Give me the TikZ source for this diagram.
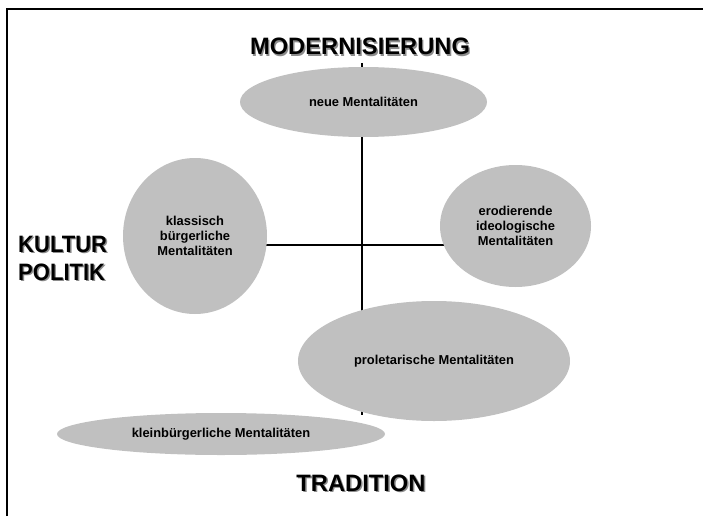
\documentclass[tikz,border=0pt]{standalone}
\usepackage{fontspec}
\setmainfont{Liberation Sans}
\usetikzlibrary{shapes.geometric}
\definecolor{mentfill}{RGB}{192,192,192}
\definecolor{headshade}{RGB}{140,140,140}

\begin{document}
\begin{tikzpicture}[x=1pt,y=-1pt,
  ment/.style={ellipse, fill=mentfill, inner sep=0pt, align=center,
    font=\fontsize{12.9}{15}\selectfont\bfseries},
  axisline/.style={line width=1.5pt, black},
  frameline/.style={line width=2pt, black},
  headfont/.style={font=\fontsize{23.7}{28}\selectfont\bfseries, inner sep=0pt},
  headshadow/.style={headfont, text=headshade},
]
\useasboundingbox (0,0) rectangle (703,516);

% page frame: top and left edges
\coordinate (fbl) at (7,516);
\coordinate (ftl) at (7,9);
\coordinate (ftr) at (703,9);
\draw[frameline] (fbl) -- (ftl) -- (ftr);

% axes, drawn behind the ellipses
\coordinate (vtop) at (362,63);
\coordinate (vbot) at (362,415);
\coordinate (hleft) at (195,245);
\coordinate (hright) at (515,245);
\draw[axisline] (vtop) -- (vbot);
\draw[axisline] (hleft) -- (hright);

% mentality groups
\node[ment, minimum width=247pt, minimum height=70pt] (neue) at (363.5,102)
  {neue Mentalitäten};
\node[ment, minimum width=144pt, minimum height=156pt] (klass) at (195,236)
  {klassisch\\bürgerliche\\Mentalitäten};
\node[ment, minimum width=151pt, minimum height=122pt] (erod) at (515.5,226)
  {erodierende\\ideologische\\Mentalitäten};
\node[ment, minimum width=272pt, minimum height=120pt] (prol) at (434,361)
  {proletarische Mentalitäten};
\node[ment, minimum width=328pt, minimum height=42pt] (klein) at (221,434)
  {kleinbürgerliche Mentalitäten};

% axis headings with drop shadow
\node[headshadow, anchor=base] (modS) at (361.4,56.4) {MODERNISIERUNG};
\node[headfont, anchor=base] (mod) at (360,55) {MODERNISIERUNG};

\node[headshadow, anchor=base west] (kultS) at (19.4,253.4) {\scalebox{0.93}[1]{KULTUR}};
\node[headfont, anchor=base west] (kult) at (18,252) {\scalebox{0.93}[1]{KULTUR}};
\node[headshadow, anchor=base west] (polS) at (19.4,281.4) {\scalebox{0.93}[1]{POLITIK}};
\node[headfont, anchor=base west] (pol) at (18,280) {\scalebox{0.93}[1]{POLITIK}};

\node[headshadow, anchor=base] (tradS) at (362.4,492.9) {TRADITION};
\node[headfont, anchor=base] (trad) at (361,491.5) {TRADITION};
\end{tikzpicture}
\end{document}
